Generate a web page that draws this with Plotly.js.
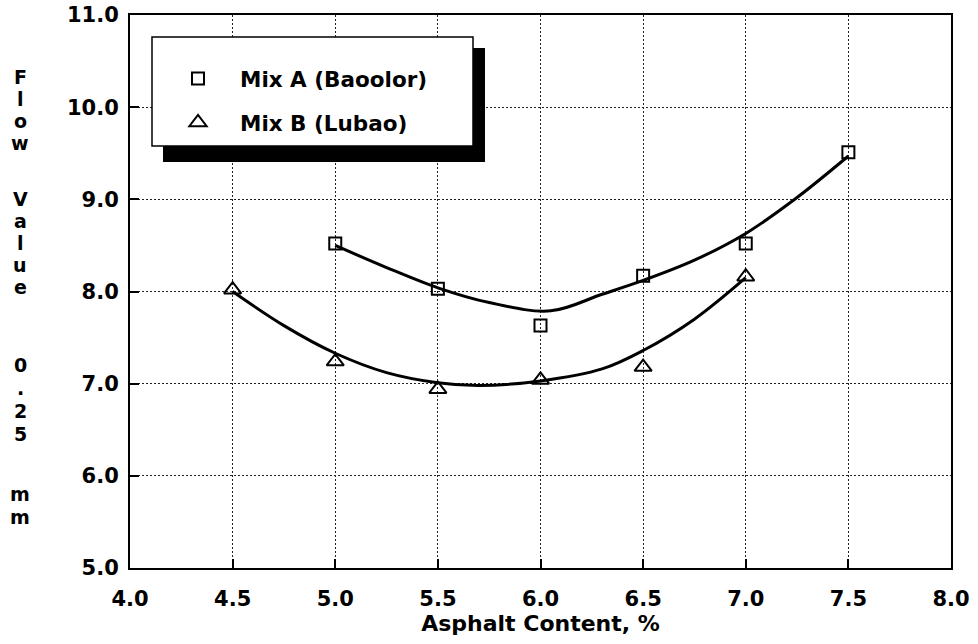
<!DOCTYPE html>
<html>
<head>
<meta charset="utf-8">
<script src="https://cdn.plot.ly/plotly-3.0.1.min.js"></script>
<style>html,body{margin:0;padding:0;background:#fff;}#chart{width:978px;height:644px;}</style>
</head>
<body>
<div id="chart"></div>
<script>
// ---- data ----
const mixA_x = [5.0, 5.5, 6.0, 6.5, 7.0, 7.5];
const mixA_y = [8.52, 8.03, 7.63, 8.17, 8.52, 9.51];
const mixB_x = [4.5, 5.0, 5.5, 6.0, 6.5, 7.0];
const mixB_y = [8.02, 7.24, 6.94, 7.04, 7.18, 8.16];
// fitted curves as drawn in the reference
const fitA_x = [5.0, 5.25, 5.5, 5.75, 6.05, 6.3, 6.5, 6.75, 7.0, 7.25, 7.5];
const fitA_y = [8.50, 8.26, 8.04, 7.88, 7.79, 7.97, 8.12, 8.34, 8.63, 9.02, 9.47];
const fitB_x = [4.5, 4.75, 5.0, 5.25, 5.5, 5.7, 6.0, 6.3, 6.5, 6.75, 7.0];
const fitB_y = [8.00, 7.63, 7.33, 7.12, 7.01, 6.98, 7.03, 7.16, 7.36, 7.70, 8.15];
const seriesNames = ['Mix A (Baoolor)', 'Mix B (Lubao)'];
const xTicks = [4.0, 4.5, 5.0, 5.5, 6.0, 6.5, 7.0, 7.5, 8.0];
const yTicks = [5.0, 6.0, 7.0, 8.0, 9.0, 10.0, 11.0];
const xTitle = 'Asphalt Content, %';
const yTitleChars = ['F','l','o','w','V','a','l','u','e','0','.','2','5','m','m'];

// ---- layout helpers (pixel -> paper) ----
const W = 978, H = 644;
const M = {l: 130, r: 27, t: 15, b: 76};
const PW = W - M.l - M.r, PH = H - M.t - M.b;
const px = x => (x - M.l) / PW;
const py = y => (H - M.b - y) / PH;
const yTitlePos = [77, 99, 121, 143, 199, 221, 243, 265, 287, 365, 388, 411, 434, 494, 517];

const FONT = 'DejaVu Sans, Arial, sans-serif';
const line = {color: '#000', width: 3, shape: 'spline', smoothing: 1};

const traces = [
  {x: fitA_x, y: fitA_y, mode: 'lines', line: line, showlegend: false, hoverinfo: 'skip'},
  {x: fitB_x, y: fitB_y, mode: 'lines', line: line, showlegend: false, hoverinfo: 'skip'},
  {x: mixA_x, y: mixA_y, mode: 'markers', name: seriesNames[0], legendgroup: 'a',
   marker: {symbol: 'square-open', size: 12, color: '#000', line: {width: 2, color: '#000'}}},
  {x: mixB_x, y: mixB_y, mode: 'markers', name: seriesNames[1], legendgroup: 'b',
   marker: {symbol: 'triangle-up-open', size: 15, color: '#000', line: {width: 2, color: '#000'}}}
];

const annotations = yTitleChars.map((c, i) => ({
  text: c, xref: 'paper', yref: 'paper', x: px(20), y: py(yTitlePos[i]),
  xanchor: 'center', yanchor: 'middle', showarrow: false,
  font: {family: FONT, size: 19, weight: 'bold', color: '#000'}
}));

const shapes = [
  {type: 'rect', xref: 'paper', yref: 'paper', layer: 'above',
   x0: px(163), x1: px(485), y0: py(162), y1: py(48),
   fillcolor: '#000', line: {width: 0}},
  {type: 'rect', xref: 'paper', yref: 'paper', layer: 'above',
   x0: px(152), x1: px(473), y0: py(146), y1: py(37),
   fillcolor: '#fff', line: {width: 1.5, color: '#000'}}
];

const axisCommon = {
  showline: true, mirror: true, linecolor: '#000', linewidth: 2,
  showgrid: true, gridcolor: '#222', gridwidth: 1, griddash: '2px,2px',
  zeroline: false, ticks: 'inside', ticklen: 9, tickwidth: 2, tickcolor: '#000',
  tickfont: {family: FONT, size: 21, weight: 'bold', color: '#000'}
};

const layout = {
  width: W, height: H,
  margin: M,
  paper_bgcolor: '#fff', plot_bgcolor: '#fff',
  showlegend: true,
  legend: {
    x: px(156), y: py(58), xanchor: 'left', yanchor: 'top',
    bgcolor: 'rgba(0,0,0,0)', borderwidth: 0,
    font: {family: FONT, size: 21.5, weight: 'bold', color: '#000'},
    tracegroupgap: 13, itemwidth: 74
  },
  xaxis: Object.assign({}, axisCommon, {
    range: [4.0, 8.0], tickvals: xTicks, ticktext: xTicks.map(v => v.toFixed(1)),
    ticklabelstandoff: 11,
    title: {text: xTitle, standoff: 5, font: {family: FONT, size: 22, weight: 'bold', color: '#000'}}
  }),
  yaxis: Object.assign({}, axisCommon, {
    range: [5.0, 11.0], tickvals: yTicks, ticktext: yTicks.map(v => v.toFixed(1)),
    ticklabelstandoff: 5
  }),
  annotations: annotations,
  shapes: shapes
};

Plotly.newPlot('chart', traces, layout, {displayModeBar: false, staticPlot: true});
</script>
</body>
</html>
